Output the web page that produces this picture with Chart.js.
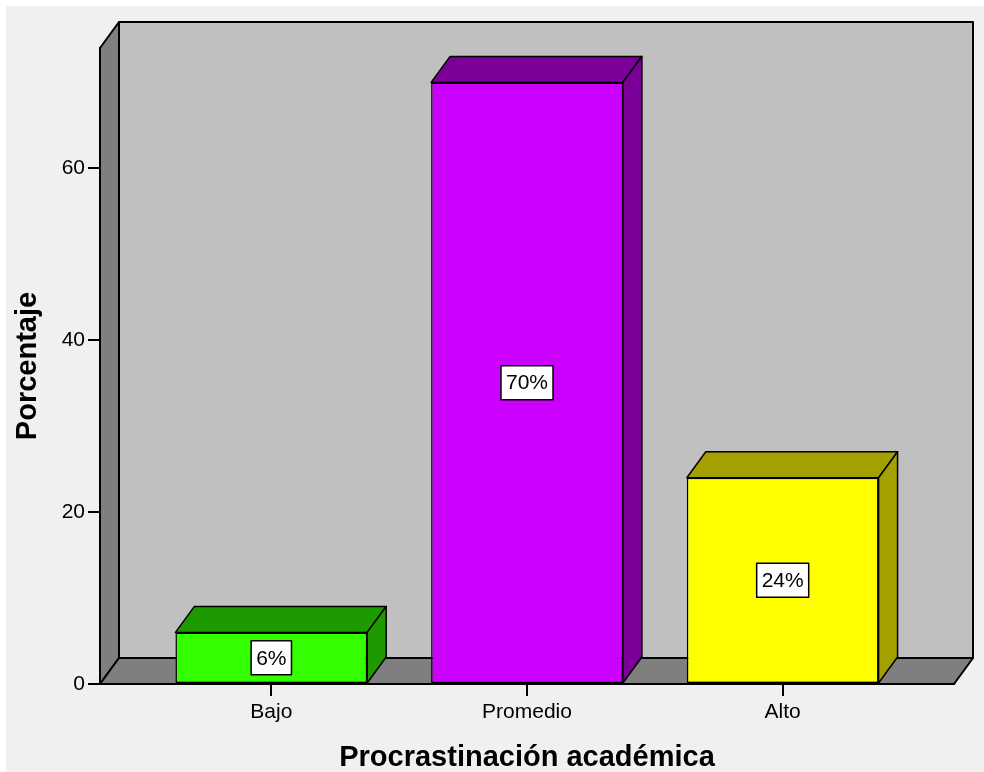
<!DOCTYPE html>
<html>
<head>
<meta charset="utf-8">
<script src="https://cdn.jsdelivr.net/npm/chart.js@4.4.1/dist/chart.umd.min.js"></script>
<style>
  html, body { margin: 0; padding: 0; background: #ffffff; }
  #wrap { position: absolute; left: 6px; top: 6px; width: 978px; height: 766px; background: #f0f0f0; }
</style>
</head>
<body>
<div id="wrap"><canvas id="barChart"></canvas></div>
<script>
const categories = ["Bajo", "Promedio", "Alto"];
const percentages = [6, 70, 24];
const yTicks = [0, 20, 40, 60];
const yMax = 74;

const frontColors = ["#33ff00", "#cc00ff", "#ffff00"];
const shadeColors = ["#1f9900", "#7a0099", "#a3a000"];
const FONT = "'Liberation Sans', Arial, sans-serif";
// depth of the 3d box, in px
const DX = 19, DY = -26;

function poly(ctx, pts, fill) {
    ctx.beginPath();
    ctx.moveTo(pts[0][0], pts[0][1]);
    for (let i = 1; i < pts.length; i++) ctx.lineTo(pts[i][0], pts[i][1]);
    ctx.closePath();
    ctx.fillStyle = fill;
    ctx.fill();
    ctx.stroke();
}

// back wall, left wall, floor
const walls = {
    id: "walls",
    beforeDraw(chart) {
        const { ctx, chartArea: a } = chart;
        ctx.save();
        ctx.strokeStyle = "#000";
        ctx.lineWidth = 2;
        ctx.lineJoin = "round";
        poly(ctx, [[a.left + DX, a.top + DY], [a.right + DX, a.top + DY], [a.right + DX, a.bottom + DY], [a.left + DX, a.bottom + DY]], "#c0c0c0");
        poly(ctx, [[a.left, a.top], [a.left + DX, a.top + DY], [a.left + DX, a.bottom + DY], [a.left, a.bottom]], "#7f7f7f");
        poly(ctx, [[a.left, a.bottom], [a.left + DX, a.bottom + DY], [a.right + DX, a.bottom + DY], [a.right, a.bottom]], "#7f7f7f");
        ctx.restore();
    }
};

// top / side faces of the bars and the value boxes
const barFaces = {
    id: "barFaces",
    afterDatasetsDraw(chart) {
        const ctx = chart.ctx;
        const meta = chart.getDatasetMeta(0);
        ctx.save();
        ctx.strokeStyle = "#000";
        ctx.lineWidth = 1.5;
        ctx.lineJoin = "round";
        meta.data.forEach((bar, i) => {
            const { x, y, base, width } = bar.getProps(["x", "y", "base", "width"], true);
            const l = x - width / 2, r = x + width / 2;
            poly(ctx, [[l, y], [l + DX, y + DY], [r + DX, y + DY], [r, y]], shadeColors[i]);
            poly(ctx, [[r, y], [r + DX, y + DY], [r + DX, base + DY], [r, base]], shadeColors[i]);

            const txt = percentages[i] + "%";
            ctx.font = "21px " + FONT;
            const tw = ctx.measureText(txt).width;
            const bw = tw + 10, bh = 34;
            const cy = (y + base) / 2;
            ctx.fillStyle = "#fff";
            ctx.lineWidth = 1.5;
            ctx.fillRect(x - bw / 2, cy - bh / 2, bw, bh);
            ctx.strokeRect(x - bw / 2, cy - bh / 2, bw, bh);
            ctx.fillStyle = "#000";
            ctx.textAlign = "center";
            ctx.textBaseline = "middle";
            ctx.fillText(txt, x, cy + 1);
        });
        ctx.restore();
    }
};

new Chart(document.getElementById("barChart"), {
    type: "bar",
    data: {
        datasets: [{
            data: categories.map((c, i) => ({ x: i, y: percentages[i] })),
            backgroundColor: frontColors,
            borderColor: "#000",
            borderWidth: 1.5,
            borderSkipped: false,
            barPercentage: 0.75,
            categoryPercentage: 1
        }]
    },
    options: {
        responsive: true,
        maintainAspectRatio: false,
        animation: false,
        layout: { padding: { top: 42, right: 30, left: 0, bottom: 0 } },
        plugins: { legend: { display: false }, tooltip: { enabled: false } },
        scales: {
            x: {
                type: "linear",
                bounds: "data",
                offset: false,
                min: -0.67,
                max: categories.length - 1 + 0.67,
                afterBuildTicks: s => { s.ticks = categories.map((c, i) => ({ value: i })); },
                afterFit: s => { s.height = 88; },
                ticks: {
                    callback: v => categories[v],
                    font: { size: 21, family: FONT },
                    color: "#000",
                    padding: 4,
                    maxRotation: 0,
                    autoSkip: false
                },
                grid: { offset: false, drawOnChartArea: false, tickLength: 12, color: "#000", lineWidth: 2 },
                border: { color: "#000", width: 2 },
                title: {
                    display: true,
                    text: "Procrastinación académica",
                    color: "#000",
                    font: { size: 29, weight: "bold", family: FONT, lineHeight: 1 },
                    padding: { top: 0, bottom: 0 }
                }
            },
            y: {
                min: 0,
                max: yMax,
                afterBuildTicks: s => { s.ticks = yTicks.map(v => ({ value: v })); },
                afterFit: s => { s.width = 94; },
                ticks: { font: { size: 21, family: FONT }, color: "#000", padding: 3 },
                grid: { drawOnChartArea: false, tickLength: 12, color: "#000", lineWidth: 2 },
                border: { color: "#000", width: 2 },
                title: {
                    display: true,
                    text: "Porcentaje",
                    color: "#000",
                    font: { size: 29, weight: "bold", family: FONT, lineHeight: 1 },
                    padding: { top: 7, bottom: 0 }
                }
            }
        }
    },
    plugins: [walls, barFaces]
});
</script>
</body>
</html>
